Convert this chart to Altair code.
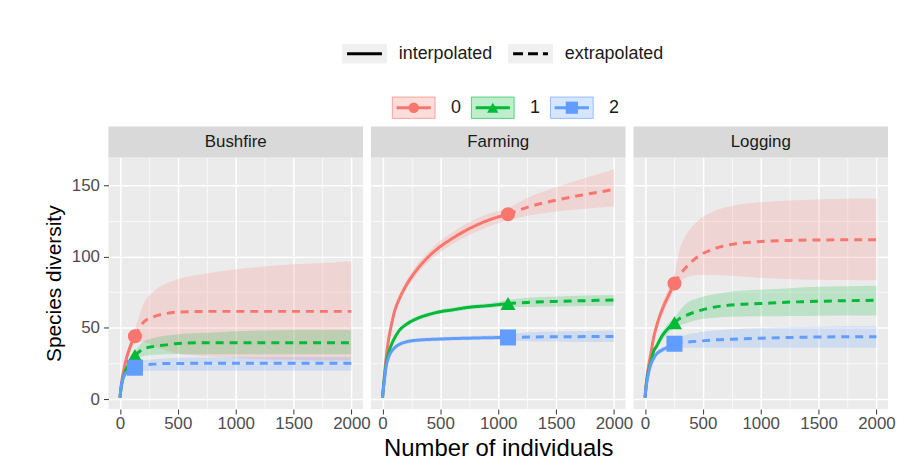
import altair as alt
import pandas as pd

FONT = "Liberation Sans"

SITES = ["Bushfire", "Farming", "Logging"]
ORDERS = ["0", "1", "2"]
LINE_TYPES = ["interpolated", "extrapolated"]
COLORS = ["#F8766D", "#00BA38", "#619CFF"]
SHAPES = ["circle", "triangle-up", "square"]
X_TICKS = [0, 250, 500, 750, 1000, 1250, 1500, 1750, 2000]
Y_TICKS = [0, 25, 50, 75, 100, 125, 150]

# ---- Bushfire ----
BUSH_N = 130
BUSH_X = [1, 5, 10, 20, 35, 50, 75, 100, 130, 200, 300, 400, 500, 750, 1000, 1250, 1500, 1750, 2000]
BUSH_Q0_EST = [1, 4.5, 8.5, 14.5, 21, 26.5, 33.5, 39, 44, 53.5, 58, 60, 61, 61.5, 61.5, 61.5, 61.5, 61.5, 61.5]
BUSH_Q0_LO = [1, 4, 7.5, 13, 19, 24, 30, 35, 39, 40, 37, 34, 32, 30, 29, 28, 27.5, 27, 27]
BUSH_Q0_HI = [1, 5, 9.5, 16, 23, 29, 37, 43, 49, 66, 76, 81, 84, 88, 91, 93, 94.5, 95.5, 96.5]
BUSH_Q1_EST = [1, 4.3, 7.5, 12, 16.5, 20, 24, 27.5, 30.5, 35, 37, 38, 39, 39.5, 39.5, 39.5, 39.5, 39.5, 39.5]
BUSH_Q1_LO = [1, 4, 7, 11, 15, 18.5, 22, 25, 27.5, 30, 31, 31.5, 31.5, 31.5, 31.5, 31.5, 31.5, 31.5, 31.5]
BUSH_Q1_HI = [1, 4.6, 8, 13, 18, 21.5, 26, 30, 33.5, 40, 43, 44.5, 45.5, 46.5, 47.5, 48, 48.5, 48.5, 48.5]
BUSH_Q2_EST = [1, 4.5, 8, 12.5, 16, 18, 20, 21.2, 22, 23.7, 24.5, 25, 25, 25.1, 25.1, 25.1, 25.1, 25.1, 25.1]
BUSH_Q2_LO = [1, 4.2, 7.3, 11.3, 14.3, 16, 17.8, 18.8, 19.3, 19.6, 19.8, 19.8, 19.8, 19.8, 19.8, 19.8, 19.8, 19.8, 19.8]
BUSH_Q2_HI = [1, 4.8, 8.7, 13.7, 17.7, 20, 22.2, 23.6, 24.7, 27, 28, 28.5, 29, 29.2, 29.3, 29.4, 29.5, 29.5, 29.5]

# ---- Farming ----
FARM_N = 1085
FARM_X = [1, 5, 10, 20, 35, 50, 75, 100, 150, 200, 300, 400, 500, 600, 750, 900, 1085, 1250, 1500, 1750, 2000]
FARM_Q0_EST = [1, 5, 10, 19, 31, 40, 51, 60, 71, 79, 91, 100, 107, 112.5, 119.5, 125, 129.7, 134.5, 139.5, 143.5, 147]
FARM_Q0_LO = [1, 4.8, 9.5, 18, 29.5, 38, 49, 57.5, 68, 76, 87.5, 96.5, 103, 108.5, 115, 120.5, 125.5, 128.5, 131.5, 133.5, 135]
FARM_Q0_HI = [1, 5.2, 10.5, 20, 32.5, 42, 53, 62.5, 74, 82, 94.5, 103.5, 111, 116.5, 124, 129.5, 134, 141, 148.5, 155, 161]
FARM_Q1_EST = [1, 4.8, 9, 17, 26.5, 31.5, 37.5, 42, 48.5, 52, 56.5, 59.3, 61.3, 62.5, 64.4, 65.4, 67, 67.8, 68.5, 69, 69.5]
FARM_Q1_LO = [1, 4.6, 8.6, 16.3, 25.5, 30.3, 36.1, 40.5, 47, 50.5, 55, 57.8, 59.8, 61, 62.9, 63.8, 64.5, 64.6, 65, 65.3, 65.5]
FARM_Q1_HI = [1, 5, 9.4, 17.7, 27.5, 32.7, 38.9, 43.5, 50, 53.5, 58, 60.8, 62.8, 64, 65.9, 67, 69.5, 71, 72, 72.6, 73]
FARM_Q2_EST = [1, 4.6, 8.5, 15, 24, 28.5, 33, 35.5, 38.5, 40, 41.3, 41.8, 42.1, 42.4, 42.7, 43, 43.2, 43.5, 43.7, 43.8, 43.9]
FARM_Q2_LO = [1, 4.4, 8.1, 14.3, 23, 27.3, 31.7, 34.1, 37.1, 38.6, 39.9, 40.4, 40.7, 41, 41.2, 41.4, 41.2, 40.6, 40.3, 40.1, 40]
FARM_Q2_HI = [1, 4.8, 8.9, 15.7, 25, 29.7, 34.3, 36.9, 39.9, 41.4, 42.7, 43.2, 43.5, 43.8, 44.2, 44.6, 45.5, 46.6, 47.3, 47.7, 48]

# ---- Logging ----
LOG_N = 255
LOG_X = [1, 5, 10, 20, 35, 50, 75, 100, 150, 200, 255, 300, 350, 450, 600, 750, 1000, 1250, 1500, 1750, 2000]
LOG_Q0_EST = [1, 5, 9.5, 17, 25, 31.5, 43, 51, 63, 72, 81, 87, 92, 99.5, 105.5, 108.5, 110.5, 111.3, 111.6, 111.7, 111.7]
LOG_Q0_LO = [1, 4.8, 9, 16, 23.5, 30, 40.5, 48, 59, 67.5, 76, 82, 85, 87, 87, 86.5, 85, 84.3, 83.7, 83.5, 83.3]
LOG_Q0_HI = [1, 5.2, 10, 18, 26.5, 33, 45.5, 54, 67, 76.5, 87, 105, 114, 124.5, 132, 135.5, 138, 139.3, 140, 140.5, 140.7]
LOG_Q1_EST = [1, 4.8, 9, 15, 21, 25.5, 33.5, 37, 44.5, 49.5, 53.5, 56.5, 58.5, 61.5, 64.5, 66, 67, 68, 68.6, 69, 69.3]
LOG_Q1_LO = [1, 4.6, 8.5, 14, 19.5, 24, 31, 35, 41.5, 46, 50, 51.5, 53, 55.5, 57, 57.7, 58, 58.3, 58.5, 58.6, 58.6]
LOG_Q1_HI = [1, 5, 9.5, 16, 22.5, 27, 35, 39.5, 47, 53, 57, 62, 66.5, 70.5, 73.5, 75.5, 76.7, 77.8, 78.7, 79.2, 79.5]
LOG_Q2_EST = [1, 4.6, 8.3, 13.5, 19.5, 24, 28.5, 31.5, 34.5, 36.5, 38.8, 39.3, 39.8, 40.5, 41.5, 42, 42.7, 43.2, 43.5, 43.7, 43.7]
LOG_Q2_LO = [1, 4.4, 7.9, 12.8, 18.5, 22.7, 27, 29.8, 32.6, 34.5, 36, 36, 36, 36, 36, 36, 36, 36, 36, 36, 36]
LOG_Q2_HI = [1, 4.8, 8.7, 14.2, 20.5, 25.3, 30, 33.2, 36.4, 38.5, 41.6, 43.5, 45, 46.5, 48, 49, 49.8, 50.3, 50.7, 51, 51]

SITE_DATA = {
    "Bushfire": (BUSH_N, BUSH_X, [BUSH_Q0_EST, BUSH_Q1_EST, BUSH_Q2_EST],
                 [BUSH_Q0_LO, BUSH_Q1_LO, BUSH_Q2_LO], [BUSH_Q0_HI, BUSH_Q1_HI, BUSH_Q2_HI]),
    "Farming": (FARM_N, FARM_X, [FARM_Q0_EST, FARM_Q1_EST, FARM_Q2_EST],
                [FARM_Q0_LO, FARM_Q1_LO, FARM_Q2_LO], [FARM_Q0_HI, FARM_Q1_HI, FARM_Q2_HI]),
    "Logging": (LOG_N, LOG_X, [LOG_Q0_EST, LOG_Q1_EST, LOG_Q2_EST],
                [LOG_Q0_LO, LOG_Q1_LO, LOG_Q2_LO], [LOG_Q0_HI, LOG_Q1_HI, LOG_Q2_HI]),
}

band_rows, line_rows, point_rows = [], [], []
for site, (n, xs, ests, los, his) in SITE_DATA.items():
    for q, est, lo, hi in zip(ORDERS, ests, los, his):
        for x, e, l, h in zip(xs, est, lo, hi):
            band_rows.append(dict(site=site, q=q, x=x, lo=l, hi=h))
            if x <= n:
                line_rows.append(dict(site=site, q=q, x=x, est=e, method="interpolated"))
            if x >= n:
                line_rows.append(dict(site=site, q=q, x=x, est=e, method="extrapolated"))
            if x == n:
                point_rows.append(dict(site=site, q=q, x=x, est=e))
band_df = pd.DataFrame(band_rows)
line_df = pd.DataFrame(line_rows)
point_df = pd.DataFrame(point_rows)

color_scale = alt.Scale(domain=ORDERS, range=COLORS)
shape_scale = alt.Scale(domain=ORDERS, range=SHAPES)
dash_scale = alt.Scale(domain=LINE_TYPES, range=[[1, 0], [8, 6]])

grid_x = {"condition": {"test": "datum.value % 500 === 0", "value": 1.5}, "value": 0.7}
grid_y = {"condition": {"test": "datum.value % 50 === 0", "value": 1.5}, "value": 0.7}
tick_x = {"condition": {"test": "datum.value % 500 === 0", "value": 1}, "value": 0}
tick_y = {"condition": {"test": "datum.value % 50 === 0", "value": 1}, "value": 0}

PW, PH, STRIP_H = 256, 253, 31


def panel(site, first, middle):
    xaxis = alt.Axis(values=X_TICKS, format="d", labelOverlap=False,
                     labelExpr="datum.value % 500 === 0 ? datum.label : ''",
                     gridWidth=grid_x, tickOpacity=tick_x, titleFontSize=24, titlePadding=5,
                     title="Number of individuals" if middle else None)
    if first:
        yaxis = alt.Axis(values=Y_TICKS, format="d", labelOverlap=False,
                         labelExpr="datum.value % 50 === 0 ? datum.label : ''",
                         gridWidth=grid_y, tickOpacity=tick_y, title="Species diversity",
                         titlePadding=7, labelPadding=4)
    else:
        yaxis = alt.Axis(values=Y_TICKS, labels=False, ticks=False, title=None,
                         gridWidth=grid_y)
    X = alt.X("x:Q", scale=alt.Scale(domain=[-99, 2100], nice=False, zero=False), axis=xaxis)
    col = alt.Color("q:N", scale=color_scale, legend=None)
    ydom = alt.Scale(domain=[-7, 169.5], nice=False, zero=False)

    bands = alt.Chart(band_df[band_df.site == site]).mark_area(
        opacity=0.2, interpolate="monotone").encode(
        x=X, y=alt.Y("lo:Q", scale=ydom, axis=yaxis), y2="hi:Q", color=col,
        detail="q:N")
    lines = alt.Chart(line_df[line_df.site == site]).mark_line(
        strokeWidth=3, interpolate="monotone", strokeCap="butt").encode(
        x=X, y=alt.Y("est:Q", scale=ydom, axis=yaxis), color=col,
        strokeDash=alt.StrokeDash("method:N", scale=dash_scale, legend=None))
    pts = alt.Chart(point_df[point_df.site == site]).mark_point(
        filled=True, opacity=1).encode(
        x=X, y=alt.Y("est:Q", scale=ydom, axis=yaxis), color=col,
        shape=alt.Shape("q:N", scale=shape_scale, legend=None),
        size=alt.Size("q:N", scale=alt.Scale(domain=ORDERS, range=[200, 260, 200]), legend=None))
    site_df = pd.DataFrame({"site": [site]})
    strip_bg = alt.Chart(site_df).mark_rect(color="#d9d9d9").encode(
        x=alt.value(0), x2=alt.value(PW), y=alt.value(-STRIP_H), y2=alt.value(0))
    strip_tx = alt.Chart(site_df).mark_text(fontSize=17, color="#1a1a1a", font=FONT).encode(
        x=alt.value(PW / 2), y=alt.value(-STRIP_H / 2), text="site:N")
    return alt.layer(bands, lines, pts, strip_bg, strip_tx).properties(
        width=PW, height=PH, view=alt.ViewBackground(fill="#ebebeb", stroke=None))


row = alt.hconcat(panel("Bushfire", True, False), panel("Farming", False, True),
                  panel("Logging", False, False), spacing=8, bounds="flush")

LEGW = 784
# legend 1: line types
leg1_df = pd.DataFrame({"method": LINE_TYPES})
lx1 = alt.X("method:N", scale=alt.Scale(type="point", domain=LINE_TYPES, range=[257.5, 424.5], padding=0), axis=None)
BOX1 = "M-1,-0.44L1,-0.44L1,0.44L-1,0.44Z"
L1_YOFF = 15.7
k1bg = alt.Chart(leg1_df).mark_point(shape=BOX1, filled=True, size=45 ** 2, color="#f0f0f0", opacity=1,
                                     yOffset=L1_YOFF).encode(x=lx1)
k1ln = alt.Chart(leg1_df).mark_point(shape="M-0.78,0L0.78,0", filled=False, size=45 ** 2, strokeWidth=3,
                                     color="black", opacity=1, yOffset=L1_YOFF).encode(
    x=lx1, strokeDash=alt.StrokeDash("method:N", scale=alt.Scale(domain=LINE_TYPES, range=[[1, 0], [10, 5]]), legend=None))
k1tx = alt.Chart(leg1_df).mark_text(align="left", dx=34.5, dy=L1_YOFF, fontSize=18, font=FONT, color="#1a1a1a").encode(
    x=lx1, text="method:N")
legend1 = alt.layer(k1bg, k1ln, k1tx).properties(width=LEGW, height=40,
                                                 view=alt.ViewBackground(stroke=None))

# legend 2: order q
leg2_df = pd.DataFrame({"q": ORDERS})
lx2 = alt.X("q:N", scale=alt.Scale(type="point", domain=ORDERS, range=[307, 466], padding=0), axis=None)
BOX2 = "M-1,-0.5L1,-0.5L1,0.5L-1,0.5Z"
col2 = alt.Color("q:N", scale=color_scale, legend=None)
k2bg = alt.Chart(leg2_df).mark_point(shape=BOX2, filled=True, size=43 ** 2, opacity=0.25).encode(x=lx2, color=col2)
k2bd = alt.Chart(leg2_df).mark_point(shape=BOX2, filled=False, size=43 ** 2, opacity=0.6, strokeWidth=1).encode(x=lx2, color=col2)
k2ln = alt.Chart(leg2_df).mark_point(shape="M-0.8,0L0.8,0", filled=False, size=43 ** 2, strokeWidth=3, opacity=1).encode(
    x=lx2, color=col2)
k2pt = alt.Chart(leg2_df).mark_point(filled=True, opacity=1).encode(
    x=lx2, color=col2, shape=alt.Shape("q:N", scale=shape_scale, legend=None),
    size=alt.Size("q:N", scale=alt.Scale(domain=ORDERS, range=[110, 150, 110]), legend=None))
k2tx = alt.Chart(leg2_df).mark_text(align="left", dx=37.5, fontSize=18, font=FONT, color="#1a1a1a").encode(
    x=lx2, text="q:N")
legend2 = alt.layer(k2bg, k2bd, k2ln, k2pt, k2tx).properties(width=LEGW, height=100,
                                                             view=alt.ViewBackground(stroke=None))

chart = alt.vconcat(legend1, legend2, row, spacing=0, bounds="flush").resolve_scale(
    strokeDash="independent", size="independent", x="independent"
).properties(
    padding={"left": 35, "top": 9, "right": 0, "bottom": 0}, background="white"
).configure(font=FONT).configure_axis(
    labelFontSize=17, labelColor="#4d4d4d", labelFont=FONT, tickColor="#333333", tickSize=5,
    titleFontSize=21, titleFont=FONT, titleColor="black", titleFontWeight="normal",
    domain=False, gridColor="white", labelPadding=2, titlePadding=4
).configure_view(stroke=None)

chart.save("out.html", embed_options={"renderer": "svg", "actions": False})
